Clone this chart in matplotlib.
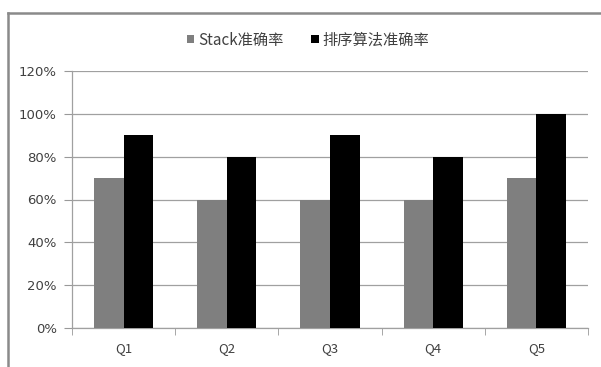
import numpy as np
import matplotlib
matplotlib.use('Agg')
import matplotlib.pyplot as plt
from matplotlib.lines import Line2D
from matplotlib.ticker import FuncFormatter

plt.rcParams['font.family'] = ['Noto Sans CJK SC', 'DejaVu Sans']

categories = ['Q1', 'Q2', 'Q3', 'Q4', 'Q5']
stack_acc = [70, 60, 60, 60, 70]
sort_acc = [90, 80, 90, 80, 100]
series_names = ['Stack准确率', '排序算法准确率']

W, H = 601, 367
fig = plt.figure(figsize=(W / 100, H / 100), dpi=100)
# plot area in pixels: x 72..588, y 71..328
ax = fig.add_axes([72 / W, 1 - 328 / H, (588 - 72) / W, (328 - 71) / H])

x = np.arange(len(categories))
bw = 0.286
ax.bar(x - bw / 2, stack_acc, bw, color='#7f7f7f', label=series_names[0], zorder=3)
ax.bar(x + bw / 2, sort_acc, bw, color='#000000', label=series_names[1], zorder=3)

ax.set_xlim(-0.5, len(categories) - 0.5)
ax.set_ylim(0, 120)
ax.set_yticks(range(0, 121, 20))
ax.yaxis.set_major_formatter(FuncFormatter(lambda v, p: f'{int(v)}%'))
ax.set_xticks(x)
ax.set_xticklabels(categories)
ax.set_xticks(np.arange(-0.5, len(categories), 1), minor=True)
ax.tick_params(axis='x', which='major', length=0, pad=10, labelsize=9.5, colors='#404040')
ax.tick_params(axis='x', which='minor', length=5, color='#999999', direction='out')
ax.tick_params(axis='y', length=6, color='#999999', labelsize=9.5, labelcolor='#404040', pad=5)
for lab in ax.get_yticklabels():
    lab.set_family('DejaVu Sans')
ax.grid(axis='y', color='#a0a0a0', linewidth=0.9, zorder=0)
for s in ['top', 'right']:
    ax.spines[s].set_visible(False)
for s in ['left', 'bottom']:
    ax.spines[s].set_color('#a0a0a0')
    ax.spines[s].set_linewidth(0.9)

ax.legend(loc='center', bbox_to_anchor=(308 / W, 1 - 40 / H), bbox_transform=fig.transFigure,
          ncol=2, frameon=False, fontsize=11, handlelength=0.5, handleheight=0.5,
          handletextpad=0.25, columnspacing=1.8, labelcolor='#404040')

# outer chart border (left and top edges visible)
fig.add_artist(Line2D([8 / W, 8 / W], [0, 1 - 13 / H], transform=fig.transFigure,
                      color='#8a8a8a', linewidth=1.8))
fig.add_artist(Line2D([8 / W, 1], [1 - 13 / H, 1 - 13 / H], transform=fig.transFigure,
                      color='#8a8a8a', linewidth=1.8))

fig.savefig('out.png', dpi=100)
